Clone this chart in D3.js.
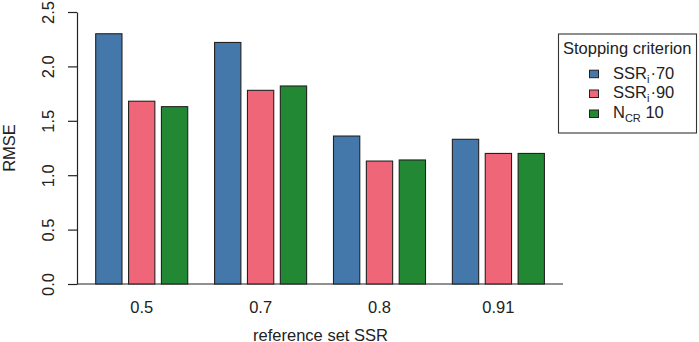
<!DOCTYPE html>
<html>
<head>
<meta charset="utf-8">
<script src="https://cdn.jsdelivr.net/npm/d3@7"></script>
<style>
  html, body { margin: 0; padding: 0; background: #fff; }
  svg { display: block; font-family: "Liberation Sans", Arial, sans-serif; }
</style>
</head>
<body>
<svg id="chart" width="699" height="342"></svg>
<script>
const categories = ["0.5", "0.7", "0.8", "0.91"];
const seriesNames = ["SSRi70", "SSRi90", "NCR10"];
const ssr70 = [2.30, 2.22, 1.36, 1.33];
const ssr90 = [1.68, 1.78, 1.13, 1.20];
const ncr10 = [1.63, 1.82, 1.14, 1.20];
const yTicks = [0.0, 0.5, 1.0, 1.5, 2.0, 2.5];
const colors = ["#4477AA", "#EE6677", "#228833"];

const seriesValues = [ssr70, ssr90, ncr10];
const data = categories.map((c, i) => ({cat: c, vals: seriesNames.map((s, j) => ({key: s, value: seriesValues[j][i], color: colors[j]}))}));

const svg = d3.select("#chart");
const yBottom = 284, yTop = 12, axisX = 77;

const y = d3.scaleLinear().domain([0, 2.5]).range([yBottom, yTop]);
const x0 = d3.scaleBand().domain(categories).range([69, 571.1]).paddingInner(0.226).paddingOuter(0.2245);
const x1 = d3.scaleBand().domain(seriesNames).range([0, x0.bandwidth()]).paddingInner(0.2).paddingOuter(0);

// baseline
svg.append("line").attr("x1", axisX).attr("x2", 563).attr("y1", y(0)).attr("y2", y(0))
  .attr("stroke", "#222").attr("stroke-width", 1.2);

// bars
const g = svg.append("g");
g.selectAll("g.grp").data(data).join("g").attr("class", "grp")
  .attr("transform", d => `translate(${x0(d.cat)},0)`)
  .selectAll("rect").data(d => d.vals).join("rect")
  .attr("x", d => x1(d.key))
  .attr("width", x1.bandwidth())
  .attr("y", d => y(d.value))
  .attr("height", d => y(0) - y(d.value))
  .attr("fill", d => d.color)
  .attr("stroke", "#222").attr("stroke-width", 1.1);

// y axis
const yAxis = d3.axisLeft(y).tickValues(yTicks).tickSize(9).tickSizeOuter(0).tickFormat(d3.format(".1f"));
const ya = svg.append("g").attr("transform", `translate(${axisX},0)`).call(yAxis);
ya.select(".domain").attr("stroke", "#222").attr("stroke-width", 1.2);
ya.selectAll(".tick line").attr("stroke", "#222").attr("stroke-width", 1.2);
ya.selectAll(".tick text")
  .attr("x", null).attr("dy", null)
  .attr("transform", "translate(-23.5,0) rotate(-90)")
  .attr("text-anchor", "middle")
  .attr("fill", "#222")
  .style("font-size", "16.5px")
  .style("font-family", "Liberation Sans, Arial, sans-serif");

// x labels
svg.append("g").selectAll("text").data(categories).join("text")
  .attr("x", d => x0(d) + x0.bandwidth() / 2)
  .attr("y", 312.5)
  .attr("text-anchor", "middle")
  .attr("fill", "#222")
  .style("font-size", "16.5px")
  .text(d => d);

// axis titles
svg.append("text").attr("x", 320.5).attr("y", 340.5).attr("text-anchor", "middle")
  .attr("fill", "#222").style("font-size", "16.5px").text("reference set SSR");
svg.append("text").attr("transform", `translate(15,${(yTop + yBottom) / 2}) rotate(-90)`)
  .attr("text-anchor", "middle").attr("fill", "#222").style("font-size", "16.5px").text("RMSE");

// legend
const lg = svg.append("g");
lg.append("rect").attr("x", 558.5).attr("y", 34).attr("width", 138).attr("height", 99)
  .attr("fill", "#fff").attr("stroke", "#333").attr("stroke-width", 1.1);
lg.append("text").attr("x", 563).attr("y", 54).attr("fill", "#222").style("font-size", "16.5px").text("Stopping criterion");
const rowsY = [78.5, 98.3, 118.3];
seriesNames.forEach((s, j) => {
  lg.append("rect").attr("x", 589.5).attr("y", rowsY[j] - 8.3).attr("width", 9).attr("height", 7.5)
    .attr("fill", colors[j]).attr("stroke", "#222").attr("stroke-width", 1);
  const t = lg.append("text").attr("x", 613).attr("y", rowsY[j]).attr("fill", "#222").style("font-size", "16.5px");
  if (j < 2) {
    t.append("tspan").text("SSR");
    t.append("tspan").attr("dy", 4).style("font-size", "11px").text("i");
    t.append("tspan").attr("dy", -4).attr("dx", 1).text("\u00B7" + (j === 0 ? "70" : "90"));
  } else {
    t.append("tspan").text("N");
    t.append("tspan").attr("dy", 4).style("font-size", "11px").text("CR");
    t.append("tspan").attr("dy", -4).text(" 10");
  }
});
</script>
</body>
</html>
